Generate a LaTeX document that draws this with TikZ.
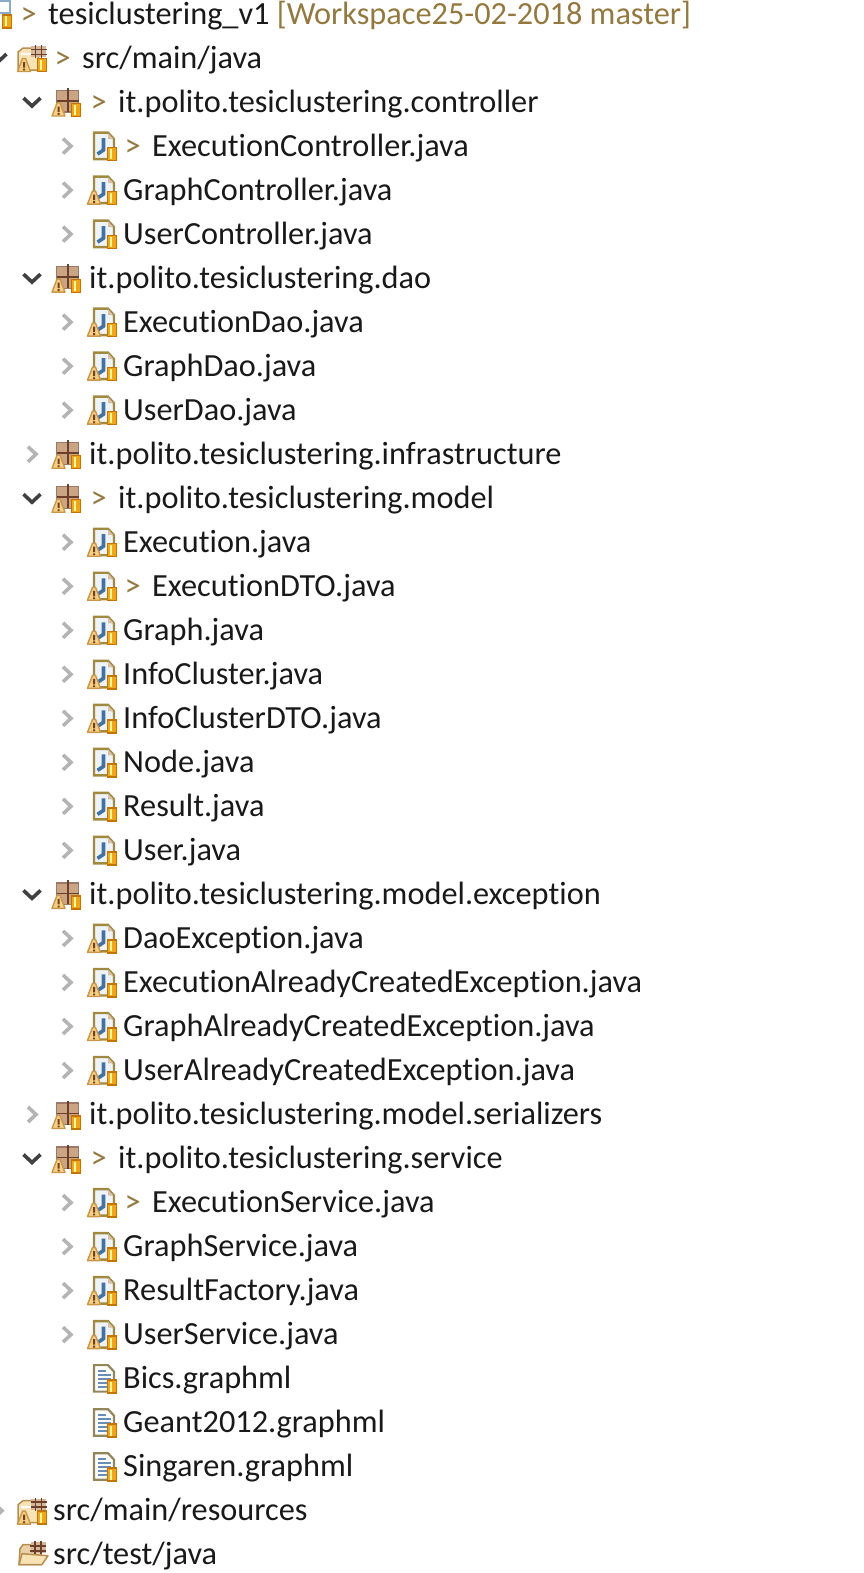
\documentclass[tikz,border=0pt]{standalone}
\usepackage{fontspec}
\setmainfont[Ligatures=NoCommon]{Carlito}
\definecolor{dirtytxt}{HTML}{94793F}
\definecolor{chevdark}{HTML}{404040}
\definecolor{chevpale}{HTML}{B4B4B4}
\definecolor{pageedge}{HTML}{A08A40}
\definecolor{pagefill}{HTML}{EEF3F9}
\definecolor{jblue}{HTML}{3F73A8}
\definecolor{badgeor}{HTML}{F5A50F}
\definecolor{badgeedge}{HTML}{C47400}
\definecolor{warnfill}{HTML}{F8CF80}
\definecolor{warnedge}{HTML}{C8974A}
\definecolor{pkgbox}{HTML}{CBA583}
\definecolor{pkgline}{HTML}{6E3F28}
\definecolor{folderpale}{HTML}{F7E3B5}
\definecolor{folderedge}{HTML}{B58F50}
\newcommand{\dm}{\makebox[29pt][l]{\hspace{1.5pt}\textcolor{dirtytxt}{>}}}
\tikzset{
  every node/.style={
    font=\fontsize{32.3}{36}\selectfont,
    inner sep=0pt,
    text=black!90
  },
  treelabel/.style={
    anchor=base west
  },
  chevron/.style={
    line width=3.6pt,
    line join=miter
  },
  pics/blank/.style={code={}},
  pics/chevdown/.style={code={
    \draw[chevron,chevdark] (-8.5,-4) -- (0,4) -- (8.5,-4);
  }},
  pics/chevright/.style={code={
    \draw[chevron,chevpale] (-4,-7.5) -- (4,0) -- (-4,7.5);
  }},
  pics/badge/.style={code={
    \draw[badgeedge,fill=badgeor,line width=1.4pt] (-4.5,-6.5) rectangle (4.5,6.5);
    \fill[yellow!35!white] (-2,-5) rectangle (0,5);
  }},
  pics/warn/.style={code={
    \draw[warnedge,fill=warnfill,line width=1.4pt,line join=round] (-6.5,6.5) -- (-1.5,-6.5) -- (1.5,-6.5) -- (6.5,6.5) -- cycle;
    \fill[pkgline] (-1,-3) rectangle (1,2.5) (-1,3.6) rectangle (1,5.4);
  }},
  pics/page/.style={code={
    \draw[pageedge,fill=pagefill,line width=2.4pt,line join=miter] (-10,-13.5) -- (4,-13.5) -- (10,-7) -- (10,13) -- (-10,13) -- cycle;
    \fill[pkgbox!70] (4,-13) -- (4,-7) -- (9.5,-7) -- cycle;
  }},
  pics/java/.style={code={
    \pic {page};
    \draw[jblue,line width=3.6pt] (-0.5,-8) -- (-0.5,4) -- (-6.5,8);
    \pic at (8,8) {badge};
  }},
  pics/javaw/.style={code={
    \pic {java};
    \pic at (-10,7.5) {warn};
  }},
  pics/graphml/.style={code={
    \draw[pageedge!60!gray,fill=white,line width=2.2pt,line join=miter] (-10,-13.5) -- (4,-13.5) -- (10,-7) -- (10,13) -- (-10,13) -- cycle;
    \foreach \ly/\lw in {-8/8,-4/13,0/13,4/13,8/9}
      \draw[jblue!80,line width=2pt] (-6.5,\ly) -- ++(\lw,0);
    \pic at (8,8) {badge};
  }},
  pics/pkg/.style={code={
    \draw[pkgline!70,fill=pkgbox,line width=1.2pt] (-9.5,-11.5) rectangle (12.5,10);
    \draw[pkgline,line width=1.8pt] (2,-14) -- (2,10) (-9.5,-1) -- (12.5,-1);
    \pic at (-7.5,7.5) {warn};
    \pic at (10,8) {badge};
  }},
  pics/grid/.style={code={
    \fill[pkgbox!80] (-7.5,-5.5) rectangle (7.5,5.5);
    \draw[pkgline,line width=1.8pt] (-3,-6.5) -- (-3,6.5) (3,-6.5) -- (3,6.5) (-8,-2) -- (8,-2) (-8,3) -- (8,3);
  }},
  pics/folder/.style={code={
    \draw[folderedge,fill=folderpale,line width=1.5pt,line join=round] (-15,-6) -- (-10,-10) -- (4,-10) -- (7,12) -- (-15,12) -- cycle;
    \draw[white,line width=2pt] (-12,-4) -- (3,-4);
    \pic at (5.5,-6.5) {grid};
  }},
  pics/srcw/.style={code={
    \pic {folder};
    \pic at (-9,7) {warn};
    \pic at (9,7) {badge};
  }},
  pics/opentest/.style={code={
    \draw[folderedge,fill=folderpale!70!pkgbox,line width=1.5pt,line join=round] (-14,10) -- (-13,-6) -- (-10,-10) -- (8,-10) -- (8,0) -- (8,10) -- cycle;
    \pic at (5,-7) {grid};
    \draw[folderedge,fill=folderpale,line width=1.5pt,line join=round] (-11,-1) -- (15,1) -- (9,10) -- (-14,10) -- cycle;
  }},
  pics/proj/.style={code={
    \draw[jblue!60,fill=white,line width=2pt] (-3,-13) rectangle (8,-1);
    \pic at (5,7.5) {badge};
  }}
}
\begin{document}
\begin{tikzpicture}[x=1pt,y=-1pt]
\useasboundingbox (0,0) rectangle (863,1573);

% one row of the tree: number / level / chevron / icon / text
\foreach \n/\lev/\ch/\ic/\lab in {
  0/0/blank/proj/{\dm tesiclustering\_v1 \textcolor{dirtytxt}{[Workspace25-02-2018 master]}},
  1/1/chevdown/srcw/{\dm src/main/java},
  2/2/chevdown/pkg/{\dm it.polito.tesiclustering.controller},
  3/3/chevright/java/{\dm ExecutionController.java},
  4/3/chevright/javaw/{GraphController.java},
  5/3/chevright/java/{UserController.java},
  6/2/chevdown/pkg/{it.polito.tesiclustering.dao},
  7/3/chevright/javaw/{ExecutionDao.java},
  8/3/chevright/javaw/{GraphDao.java},
  9/3/chevright/javaw/{UserDao.java},
  10/2/chevright/pkg/{it.polito.tesiclustering.infrastructure},
  11/2/chevdown/pkg/{\dm it.polito.tesiclustering.model},
  12/3/chevright/javaw/{Execution.java},
  13/3/chevright/javaw/{\dm ExecutionDTO.java},
  14/3/chevright/javaw/{Graph.java},
  15/3/chevright/javaw/{InfoCluster.java},
  16/3/chevright/javaw/{InfoClusterDTO.java},
  17/3/chevright/java/{Node.java},
  18/3/chevright/java/{Result.java},
  19/3/chevright/java/{User.java},
  20/2/chevdown/pkg/{it.polito.tesiclustering.model.exception},
  21/3/chevright/javaw/{DaoException.java},
  22/3/chevright/javaw/{ExecutionAlreadyCreatedException.java},
  23/3/chevright/javaw/{GraphAlreadyCreatedException.java},
  24/3/chevright/javaw/{UserAlreadyCreatedException.java},
  25/2/chevright/pkg/{it.polito.tesiclustering.model.serializers},
  26/2/chevdown/pkg/{\dm it.polito.tesiclustering.service},
  27/3/chevright/javaw/{\dm ExecutionService.java},
  28/3/chevright/javaw/{GraphService.java},
  29/3/chevright/javaw/{ResultFactory.java},
  30/3/chevright/javaw/{UserService.java},
  31/3/blank/graphml/{Bics.graphml},
  32/3/blank/graphml/{Geant2012.graphml},
  33/3/blank/graphml/{Singaren.graphml},
  34/1/chevright/srcw/{src/main/resources},
  35/1/blank/opentest/{src/test/java}%
} {
  \pgfmathsetmacro{\ry}{14+44.02*\n}
  \pgfmathsetmacro{\tx}{{19,53,89,123}[\lev]}
  \pgfmathsetmacro{\ix}{{2,33,66,104}[\lev]}
  \pgfmathsetmacro{\cx}{{0,-2,32,67}[\lev]}
  \pic at (\cx,\ry) {\ch};
  \pic at (\ix,\ry) {\ic};
  \node [treelabel] (row\n) at (\tx,\ry+10.2) {\lab};
}

\end{tikzpicture}
\end{document}
